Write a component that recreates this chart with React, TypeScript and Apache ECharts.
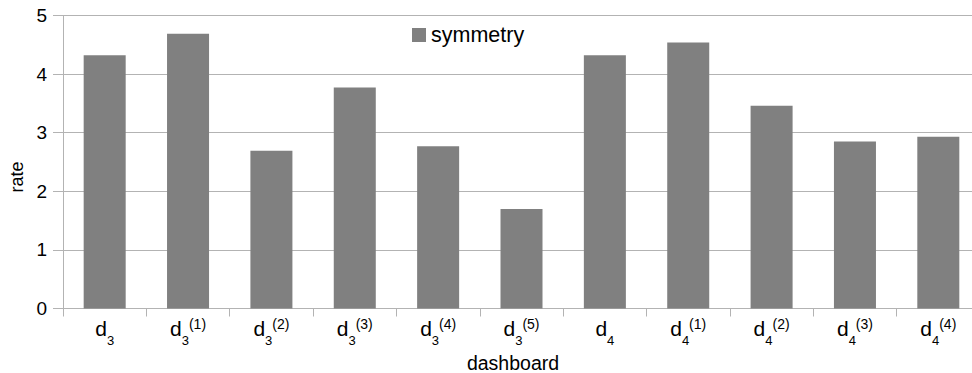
import React, { useEffect, useRef } from 'react';
import * as echarts from 'echarts';

const categories = ['d_3', 'd_3^(1)', 'd_3^(2)', 'd_3^(3)', 'd_3^(4)', 'd_3^(5)', 'd_4', 'd_4^(1)', 'd_4^(2)', 'd_4^(3)', 'd_4^(4)'];
const symmetry = [4.32, 4.69, 2.69, 3.77, 2.77, 1.7, 4.32, 4.54, 3.46, 2.85, 2.93];
const yMin = 0;
const yMax = 5;
const yStep = 1;
const seriesName = 'symmetry';
const xName = 'dashboard';
const yName = 'rate';

const FONT = '"Liberation Sans", Arial, sans-serif';
const AXIS = '#b3b3b3';

function fmtCat(v: string): string {
  const m = /^([^_^]+)(?:_([^_^]+))?(?:\^(.+))?$/.exec(v);
  if (!m) return v;
  let s = `{d|${m[1]}}`;
  if (m[2]) s += `{sub|${m[2]}}`;
  if (m[3]) s += `{sup|${m[3]}}`;
  return s;
}

export default function App() {
  const ref = useRef<HTMLDivElement>(null);
  useEffect(() => {
    if (!ref.current) return;
    const chart = echarts.init(ref.current, null, { renderer: 'svg' });
    chart.setOption({
      animation: false,
      textStyle: { fontFamily: FONT, color: '#000' },
      grid: { left: 63, top: 15.5, right: -8, bottom: 64.5, containLabel: false, outerBoundsMode: 'none' },
      legend: {
        left: 412,
        top: 24,
        padding: 0,
        itemWidth: 14,
        itemHeight: 14,
        icon: 'rect',
        itemGap: 0,
        textStyle: { fontSize: 21.5, color: '#000', fontFamily: FONT, padding: [6, 0, 0, 0] },
        data: [seriesName],
      },
      xAxis: {
        type: 'category',
        data: categories,
        boundaryGap: true,
        name: xName,
        nameLocation: 'middle',
        nameGap: 44,
        nameTextStyle: { fontSize: 19.5, color: '#000', fontFamily: FONT, padding: [0, 17, 0, 0] },
        axisLine: { show: true, lineStyle: { color: AXIS, width: 1 } },
        axisTick: { show: true, length: 8, alignWithLabel: false, lineStyle: { color: AXIS } },
        axisLabel: {
          margin: 0.5,
          interval: 0,
          formatter: fmtCat,
          rich: {
            d: { fontSize: 21, lineHeight: 38, color: '#000', fontFamily: FONT },
            sub: { fontSize: 13, lineHeight: 14, verticalAlign: 'bottom', color: '#000', fontFamily: FONT },
            sup: { fontSize: 14, verticalAlign: 'top', padding: [8, 0, 0, 0], color: '#000', fontFamily: FONT },
          },
        },
        splitLine: { show: false },
      },
      yAxis: {
        type: 'value',
        min: yMin,
        max: yMax,
        interval: yStep,
        name: yName,
        nameLocation: 'middle',
        nameRotate: 90,
        nameGap: 36,
        nameTextStyle: { fontSize: 18, color: '#000', fontFamily: FONT, padding: [0, 30, 0, 0] },
        axisLine: { show: true, lineStyle: { color: AXIS, width: 1 } },
        axisTick: { show: true, length: 10, lineStyle: { color: AXIS } },
        axisLabel: { margin: 16, fontSize: 19, color: '#000', fontFamily: FONT },
        splitLine: { show: true, lineStyle: { color: AXIS, width: 1 } },
      },
      series: [
        {
          name: seriesName,
          type: 'bar',
          data: symmetry,
          barWidth: '50.4%',
          itemStyle: { color: '#808080' },
        },
      ],
    });
    return () => chart.dispose();
  }, []);
  return (
    <div
      ref={ref}
      style={{ position: 'absolute', left: 0, top: 0, width: 972, height: 373, background: '#fff' }}
    />
  );
}
